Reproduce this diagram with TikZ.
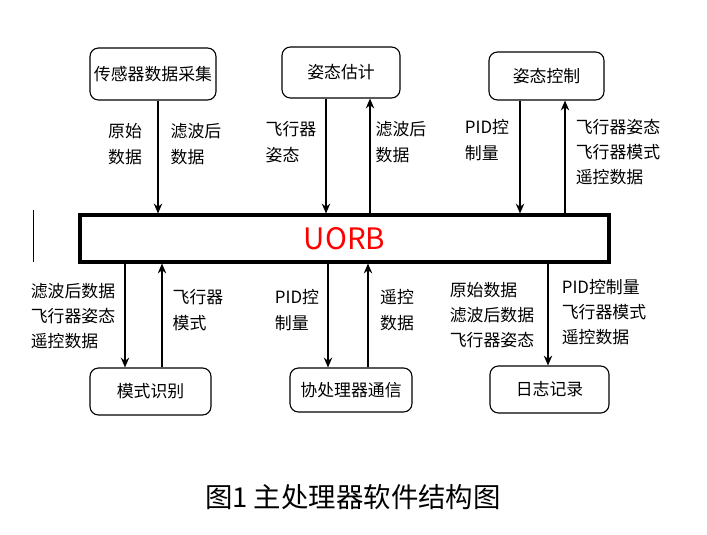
\documentclass[tikz,border=0pt]{standalone}
\usepackage{fontspec}
\setmainfont{Noto Sans CJK SC}
\usetikzlibrary{arrows.meta, positioning, calc}

\tikzset{
  box/.style={draw, thick, rounded corners=6pt, inner sep=0pt},
  flow/.style={thick, -{Stealth[length=7pt,width=6pt]}},
  lbl/.style={font=\fontsize{12}{13}\selectfont, align=left, inner sep=0pt}
}

\begin{document}
\begin{tikzpicture}[x=0.025cm, y=-0.025cm]
\useasboundingbox (0,0) rectangle (707,534);

% top modules
\node[box, minimum width=126*0.025cm, minimum height=52*0.025cm, lbl] (sens) at (153,74) {传感器数据采集};
\node[box, minimum width=118*0.025cm, minimum height=51*0.025cm, lbl] (est) at (341,72.5) {姿态估计};
\node[box, minimum width=115*0.025cm, minimum height=48*0.025cm, lbl] (ctrl) at (546.5,76) {姿态控制};

% message bus
\node[draw, line width=2.2pt, minimum width=529*0.025cm, minimum height=47*0.025cm, inner sep=0pt] (uorb) at (344.5,238.5) {};
\node[text=red, font=\fontsize{21}{23}\selectfont] at (uorb) {UORB};
\draw (33,210) -- (33,262);

% bottom modules
\node[box, minimum width=121*0.025cm, minimum height=47*0.025cm, lbl] (mode) at (150.5,391.5) {模式识别};
\node[box, minimum width=122*0.025cm, minimum height=44*0.025cm, lbl] (cop) at (351,390) {协处理器通信};
\node[box, minimum width=119*0.025cm, minimum height=47*0.025cm, lbl] (log) at (549.5,389.5) {日志记录};

% connectors
\draw[flow] (sens.south -| 158,0) -- (uorb.north -| 158,0);
\draw[flow] (est.south -| 326,0) -- (uorb.north -| 326,0);
\draw[flow] (uorb.north -| 370,0) -- (est.south -| 370,0);
\draw[flow] (ctrl.south -| 520,0) -- (uorb.north -| 520,0);
\draw[flow] (uorb.north -| 565,0) -- (ctrl.south -| 565,0);
\draw[flow] (uorb.south -| 125,0) -- (mode.north -| 125,0);
\draw[flow] (mode.north -| 162,0) -- (uorb.south -| 162,0);
\draw[flow] (uorb.south -| 328,0) -- (cop.north -| 328,0);
\draw[flow] (cop.north -| 368,0) -- (uorb.south -| 368,0);
\draw[flow] (uorb.south -| 548,0) -- (log.north -| 548,0);

% labels
\node[lbl] (l1) at (125,144) {原始\\[5pt]数据};
\node[lbl] (l2) at (196,144) {滤波后\\[5pt]数据};
\node[lbl] (l3) at (291,142) {飞行器\\[5pt]姿态};
\node[lbl] (l4) at (401,142) {滤波后\\[5pt]数据};
\node[lbl] (l5) at (487,140) {PID控\\[5pt]制量};
\node[lbl] (l6) at (618,152) {飞行器姿态\\[5pt]飞行器模式\\[5pt]遥控数据};
\node[lbl] (l7) at (73,316) {滤波后数据\\[5pt]飞行器姿态\\[5pt]遥控数据};
\node[lbl] (l8) at (198,310) {飞行器\\[5pt]模式};
\node[lbl] (l9) at (297,310) {PID控\\[5pt]制量};
\node[lbl] (l10) at (397,310) {遥控\\[5pt]数据};
\node[lbl] (l11) at (492,315) {原始数据\\[5pt]滤波后数据\\[5pt]飞行器姿态};
\node[lbl] (l12) at (604,312) {PID控制量\\[5pt]飞行器模式\\[5pt]遥控数据};

\node[font=\fontsize{19.5}{21}\selectfont] (cap) at (353,497) {图1 主处理器软件结构图};
\end{tikzpicture}
\end{document}
